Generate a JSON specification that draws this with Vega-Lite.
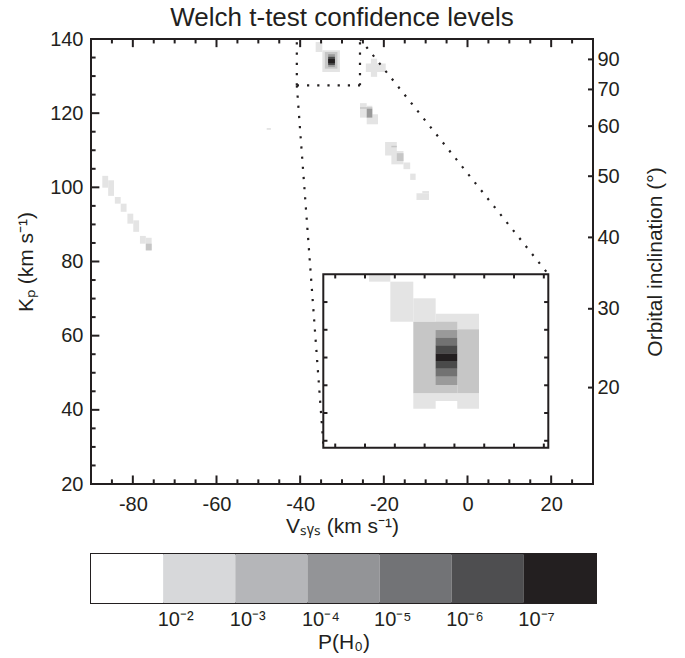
{
  "$schema": "https://vega.github.io/schema/vega-lite/v6.json",
  "background": "white",
  "padding": {"left": 14, "top": 4, "right": 4, "bottom": 4},
  "config": {
    "font": "Liberation Sans",
    "view": {"stroke": null},
    "axis": {
      "labelFont": "Liberation Sans", "labelFontSize": 20, "labelColor": "#231f20",
      "titleFont": "Liberation Sans", "titleFontSize": 21, "titleFontWeight": "normal", "titleColor": "#231f20",
      "grid": false, "zindex": 1, "labelOverlap": false, "labelFlush": false
    },
    "rule": {"color": "#231f20", "strokeWidth": 2, "strokeCap": "butt"},
    "title": {"font": "Liberation Sans", "fontSize": 26, "fontWeight": "normal", "color": "#231f20"}
  },
  "datasets": {
    "main": [
      {"v": -87.3, "v2": -85.9, "k": 99.9, "k2": 103.1, "p": 2},
      {"v": -85.9, "v2": -84.5, "k": 97.7, "k2": 101.9, "p": 2},
      {"v": -84.3, "v2": -82.9, "k": 95.6, "k2": 97.4, "p": 2},
      {"v": -82.9, "v2": -81.5, "k": 93.4, "k2": 95.6, "p": 2},
      {"v": -81.3, "v2": -79.9, "k": 90.2, "k2": 92.9, "p": 2},
      {"v": -79.9, "v2": -78.5, "k": 88.0, "k2": 91.1, "p": 2},
      {"v": -78.3, "v2": -76.9, "k": 84.8, "k2": 86.9, "p": 2},
      {"v": -76.9, "v2": -75.5, "k": 83.0, "k2": 86.4, "p": 2},
      {"v": -76.9, "v2": -75.5, "k": 83.0, "k2": 84.8, "p": 3},
      {"v": -48.0, "v2": -47.0, "k": 115.5, "k2": 116.0, "p": 2},
      {"v": -36.3, "v2": -34.7, "k": 136.5, "k2": 139.2, "p": 2},
      {"v": -34.7, "v2": -30.5, "k": 131.1, "k2": 137.0, "p": 2},
      {"v": -34.1, "v2": -31.1, "k": 132.0, "k2": 136.5, "p": 3},
      {"v": -33.3, "v2": -31.7, "k": 132.5, "k2": 135.9, "p": 4},
      {"v": -33.3, "v2": -31.7, "k": 133.0, "k2": 135.2, "p": 6},
      {"v": -33.3, "v2": -31.7, "k": 133.5, "k2": 134.6, "p": 7},
      {"v": -24.3, "v2": -19.55, "k": 131.1, "k2": 133.4, "p": 2},
      {"v": -23.1, "v2": -21.6, "k": 129.8, "k2": 134.7, "p": 2},
      {"v": -25.7, "v2": -24.1, "k": 118.8, "k2": 122.7, "p": 2},
      {"v": -24.1, "v2": -22.75, "k": 118.8, "k2": 122.0, "p": 2},
      {"v": -24.1, "v2": -21.4, "k": 117.0, "k2": 119.7, "p": 2},
      {"v": -25.7, "v2": -22.75, "k": 121.2, "k2": 121.6, "p": 3},
      {"v": -24.1, "v2": -22.75, "k": 118.8, "k2": 121.2, "p": 4},
      {"v": -19.7, "v2": -16.9, "k": 108.6, "k2": 112.2, "p": 2},
      {"v": -18.2, "v2": -15.3, "k": 106.2, "k2": 109.8, "p": 2},
      {"v": -18.2, "v2": -16.9, "k": 110.8, "k2": 111.2, "p": 3},
      {"v": -16.9, "v2": -15.3, "k": 107.1, "k2": 109.2, "p": 3},
      {"v": -15.3, "v2": -13.7, "k": 104.9, "k2": 106.7, "p": 2},
      {"v": -13.7, "v2": -12.4, "k": 102.0, "k2": 103.7, "p": 2},
      {"v": -12.2, "v2": -9.2, "k": 96.6, "k2": 98.4, "p": 2},
      {"v": -10.8, "v2": -9.2, "k": 98.4, "k2": 99.0, "p": 2}
    ],
    "inset": [
      {"v": -37.73, "v2": -36.3, "k": 139.47, "k2": 139.93, "p": 2},
      {"v": -36.3, "v2": -34.76, "k": 136.58, "k2": 139.47, "p": 2},
      {"v": -34.76, "v2": -33.26, "k": 136.58, "k2": 138.27, "p": 2},
      {"v": -33.26, "v2": -30.35, "k": 136.03, "k2": 137.16, "p": 2},
      {"v": -34.76, "v2": -30.35, "k": 130.87, "k2": 131.42, "p": 2},
      {"v": -34.76, "v2": -33.26, "k": 130.31, "k2": 130.87, "p": 2},
      {"v": -31.81, "v2": -30.35, "k": 130.31, "k2": 130.87, "p": 2},
      {"v": -34.76, "v2": -31.81, "k": 131.42, "k2": 136.58, "p": 3},
      {"v": -31.81, "v2": -30.35, "k": 131.42, "k2": 136.03, "p": 3},
      {"v": -33.26, "v2": -31.81, "k": 135.43, "k2": 135.98, "p": 4},
      {"v": -33.26, "v2": -31.81, "k": 134.88, "k2": 135.43, "p": 5},
      {"v": -33.26, "v2": -31.81, "k": 134.30, "k2": 134.88, "p": 6},
      {"v": -33.26, "v2": -31.81, "k": 133.75, "k2": 134.30, "p": 7},
      {"v": -33.26, "v2": -31.81, "k": 133.19, "k2": 133.75, "p": 6},
      {"v": -33.26, "v2": -31.81, "k": 132.62, "k2": 133.19, "p": 5},
      {"v": -33.26, "v2": -31.81, "k": 132.02, "k2": 132.62, "p": 4}
    ],
    "box": [
      {"v": -40.8, "v2": -40.8, "k": 127.5, "k2": 140},
      {"v": -40.8, "v2": -25.7, "k": 127.5, "k2": 127.5},
      {"v": -25.7, "v2": -25.7, "k": 127.5, "k2": 140}
    ],
    "links": [
      {"v": -25.7, "v2": 19.3, "k": 140, "k2": 76.6},
      {"v": -40.8, "v2": -34.4, "k": 127.5, "k2": 29.8}
    ],
    "panel": [
      {"v": -34.4, "v2": 19.3, "k": 29.8, "k2": 76.6}
    ],
    "frame": [
      {"v": -40.8, "v2": -25.7, "k": 127.5, "k2": 140}
    ],
    "xmajor": [{"v": -80}, {"v": -60}, {"v": -40}, {"v": -20}, {"v": 0}, {"v": 20}],
    "xminor": [
      {"v": -85}, {"v": -75}, {"v": -70}, {"v": -65}, {"v": -55}, {"v": -50}, {"v": -45},
      {"v": -35}, {"v": -30}, {"v": -25}, {"v": -15}, {"v": -10}, {"v": -5},
      {"v": 5}, {"v": 10}, {"v": 15}, {"v": 25}
    ],
    "ymajor": [{"k": 40}, {"k": 60}, {"k": 80}, {"k": 100}, {"k": 120}],
    "yminor": [
      {"k": 25}, {"k": 30}, {"k": 35}, {"k": 45}, {"k": 50}, {"k": 55}, {"k": 65}, {"k": 70}, {"k": 75},
      {"k": 85}, {"k": 90}, {"k": 95}, {"k": 105}, {"k": 110}, {"k": 115}, {"k": 125}, {"k": 130}, {"k": 135}
    ],
    "incl": [
      {"i": 90, "k": 134.5}, {"i": 70, "k": 126.4}, {"i": 60, "k": 116.5}, {"i": 50, "k": 103.0},
      {"i": 40, "k": 86.5}, {"i": 30, "k": 67.25}, {"i": 20, "k": 46.0}
    ],
    "ixticks": [{"v": -40}, {"v": -38}, {"v": -36}, {"v": -34}, {"v": -32}, {"v": -30}, {"v": -28}, {"v": -26}],
    "iyticks": [{"k": 128}, {"k": 130}, {"k": 132}, {"k": 134}, {"k": 136}, {"k": 138}],
    "bar": [
      {"b": 0, "b2": 1, "p": 1},
      {"b": 1, "b2": 2, "p": 2},
      {"b": 2, "b2": 3, "p": 3},
      {"b": 3, "b2": 4, "p": 4},
      {"b": 4, "b2": 5, "p": 5},
      {"b": 5, "b2": 6, "p": 6},
      {"b": 6, "b2": 7, "p": 7}
    ]
  },
  "vconcat": [
    {
      "title": {"text": "Welch t-test confidence levels", "anchor": "middle", "offset": -2},
      "width": 502,
      "height": 445,
      "view": {"stroke": "#231f20", "strokeWidth": 2},
      "layer": [
        {
          "layer": [
            {
              "data": {"name": "main"},
              "mark": {"type": "rect"},
              "encoding": {
                "x": {
                  "field": "v", "type": "quantitative",
                  "scale": {"domain": [-90, 30], "nice": false, "zero": false},
                  "axis": {
                    "orient": "bottom", "values": [-80, -60, -40, -20, 0, 20],
                    "labelExpr": "'' + datum.value", "ticks": false, "domain": false,
                    "labelPadding": 10, "title": "Vₛᵧₛ (km s⁻¹)", "titlePadding": 1
                  }
                },
                "x2": {"field": "v2"},
                "y": {
                  "field": "k", "type": "quantitative",
                  "scale": {"domain": [20, 140], "nice": false, "zero": false},
                  "axis": {
                    "orient": "left", "values": [20, 40, 60, 80, 100, 120, 140],
                    "labelExpr": "'' + datum.value", "ticks": false, "domain": false,
                    "labelPadding": 8, "title": "Kₚ (km s⁻¹)", "titlePadding": 13
                  }
                },
                "y2": {"field": "k2"},
                "color": {
                  "field": "p", "type": "ordinal",
                  "scale": {"domain": [1, 2, 3, 4, 5, 6, 7], "range": ["#ffffff", "#e4e4e4", "#c6c6c6", "#9a9a9a", "#727272", "#4a4a4a", "#231f20"]},
                  "legend": null
                }
              }
            },
            {
              "data": {"name": "box"},
              "mark": {"type": "rule", "strokeWidth": 2.2, "strokeDash": [2.2, 8]},
              "encoding": {
                "x": {"field": "v", "type": "quantitative", "axis": null},
                "x2": {"field": "v2"},
                "y": {"field": "k", "type": "quantitative", "axis": null},
                "y2": {"field": "k2"}
              }
            },
            {
              "data": {"name": "links"},
              "mark": {"type": "rule", "strokeWidth": 2.2, "strokeDash": [2.2, 8]},
              "encoding": {
                "x": {"field": "v", "type": "quantitative", "axis": null},
                "x2": {"field": "v2"},
                "y": {"field": "k", "type": "quantitative", "axis": null},
                "y2": {"field": "k2"}
              }
            },
            {
              "data": {"name": "panel"},
              "mark": {"type": "rect", "color": "white"},
              "encoding": {
                "x": {"field": "v", "type": "quantitative", "axis": null},
                "x2": {"field": "v2"},
                "y": {"field": "k", "type": "quantitative", "axis": null},
                "y2": {"field": "k2"}
              }
            },
            {
              "data": {"name": "xmajor"},
              "mark": {"type": "rule"},
              "encoding": {
                "x": {"field": "v", "type": "quantitative", "axis": null},
                "y": {"datum": 20, "type": "quantitative", "axis": null},
                "y2": {"datum": 22.3}
              }
            },
            {
              "data": {"name": "xmajor"},
              "mark": {"type": "rule"},
              "encoding": {
                "x": {"field": "v", "type": "quantitative", "axis": null},
                "y": {"datum": 140, "type": "quantitative", "axis": null},
                "y2": {"datum": 137.8}
              }
            },
            {
              "data": {"name": "xminor"},
              "mark": {"type": "rule"},
              "encoding": {
                "x": {"field": "v", "type": "quantitative", "axis": null},
                "y": {"datum": 20, "type": "quantitative", "axis": null},
                "y2": {"datum": 21.25}
              }
            },
            {
              "data": {"name": "xminor"},
              "mark": {"type": "rule"},
              "encoding": {
                "x": {"field": "v", "type": "quantitative", "axis": null},
                "y": {"datum": 140, "type": "quantitative", "axis": null},
                "y2": {"datum": 138.8}
              }
            },
            {
              "data": {"name": "ymajor"},
              "mark": {"type": "rule"},
              "encoding": {
                "y": {"field": "k", "type": "quantitative", "axis": null},
                "x": {"datum": -90, "type": "quantitative", "axis": null},
                "x2": {"datum": -88.0}
              }
            },
            {
              "data": {"name": "yminor"},
              "mark": {"type": "rule"},
              "encoding": {
                "y": {"field": "k", "type": "quantitative", "axis": null},
                "x": {"datum": -90, "type": "quantitative", "axis": null},
                "x2": {"datum": -88.9}
              }
            },
            {
              "data": {"name": "incl"},
              "mark": {"type": "rule"},
              "encoding": {
                "x": {"datum": 30, "type": "quantitative", "axis": null},
                "x2": {"datum": 28.8},
                "y": {
                  "field": "k", "type": "quantitative",
                  "axis": {
                    "orient": "right",
                    "values": [134.5, 126.4, 116.5, 103.0, 86.5, 67.25, 46.0],
                    "labelExpr": "datum.value == 134.5 ? '90' : datum.value == 126.4 ? '70' : datum.value == 116.5 ? '60' : datum.value == 103 ? '50' : datum.value == 86.5 ? '40' : datum.value == 67.25 ? '30' : '20'",
                    "ticks": false, "domain": false, "labelPadding": 4,
                    "title": "Orbital inclination (°)", "titleAngle": -90, "titlePadding": 46
                  }
                }
              }
            }
          ],
          "resolve": {"axis": {"x": "independent", "y": "independent"}}
        },
        {
          "layer": [
            {
              "data": {"name": "inset"},
              "mark": {"type": "rect"},
              "encoding": {
                "x": {
                  "field": "v", "type": "quantitative", "axis": null,
                  "scale": {"domain": [-40.8, -25.7], "range": [232.3, 457.3], "nice": false, "zero": false}
                },
                "x2": {"field": "v2"},
                "y": {
                  "field": "k", "type": "quantitative", "axis": null,
                  "scale": {"domain": [127.5, 140], "range": [408.7, 235.3], "nice": false, "zero": false}
                },
                "y2": {"field": "k2"},
                "color": {
                  "field": "p", "type": "ordinal",
                  "scale": {"domain": [1, 2, 3, 4, 5, 6, 7], "range": ["#ffffff", "#e4e4e4", "#c6c6c6", "#9a9a9a", "#727272", "#4a4a4a", "#231f20"]},
                  "legend": null
                }
              }
            },
            {
              "data": {"name": "frame"},
              "mark": {"type": "rect", "fill": null, "stroke": "#231f20", "strokeWidth": 2},
              "encoding": {
                "x": {"field": "v", "type": "quantitative", "axis": null},
                "x2": {"field": "v2"},
                "y": {"field": "k", "type": "quantitative", "axis": null},
                "y2": {"field": "k2"}
              }
            },
            {
              "data": {"name": "ixticks"},
              "mark": {"type": "rule"},
              "encoding": {
                "x": {"field": "v", "type": "quantitative", "axis": null},
                "y": {"datum": 127.5, "type": "quantitative", "axis": null},
                "y2": {"datum": 127.8}
              }
            },
            {
              "data": {"name": "ixticks"},
              "mark": {"type": "rule"},
              "encoding": {
                "x": {"field": "v", "type": "quantitative", "axis": null},
                "y": {"datum": 140, "type": "quantitative", "axis": null},
                "y2": {"datum": 139.7}
              }
            },
            {
              "data": {"name": "iyticks"},
              "mark": {"type": "rule"},
              "encoding": {
                "y": {"field": "k", "type": "quantitative", "axis": null},
                "x": {"datum": -40.8, "type": "quantitative", "axis": null},
                "x2": {"datum": -40.52}
              }
            },
            {
              "data": {"name": "iyticks"},
              "mark": {"type": "rule"},
              "encoding": {
                "y": {"field": "k", "type": "quantitative", "axis": null},
                "x": {"datum": -25.7, "type": "quantitative", "axis": null},
                "x2": {"datum": -25.98}
              }
            }
          ]
        }
      ],
      "resolve": {"scale": {"x": "independent", "y": "independent"}, "axis": {"x": "independent", "y": "independent"}}
    },
    {
      "width": 505,
      "height": 49,
      "view": {"stroke": "#231f20", "strokeWidth": 2},
      "data": {"name": "bar"},
      "mark": {"type": "rect"},
      "encoding": {
        "x": {
          "field": "b", "type": "quantitative",
          "scale": {"domain": [0, 7], "nice": false, "zero": false},
          "axis": {
            "values": [1, 2, 3, 4, 5, 6],
            "labelExpr": "'10' + ['⁻²', '⁻³', '⁻⁴', '⁻⁵', '⁻⁶', '⁻⁷'][datum.value - 1]",
            "ticks": false, "domain": false,
            "labelAlign": "left", "labelPadding": 6, "labelOffset": -6,
            "title": "P(H₀)", "titlePadding": 2
          }
        },
        "x2": {"field": "b2"},
        "color": {
          "field": "p", "type": "ordinal",
          "scale": {"domain": [1, 2, 3, 4, 5, 6, 7], "range": ["#ffffff", "#d7d8da", "#b5b6b9", "#939497", "#727376", "#4e4e50", "#231f20"]},
          "legend": null
        }
      }
    }
  ],
  "spacing": 16,
  "resolve": {"scale": {"color": "independent"}}
}
